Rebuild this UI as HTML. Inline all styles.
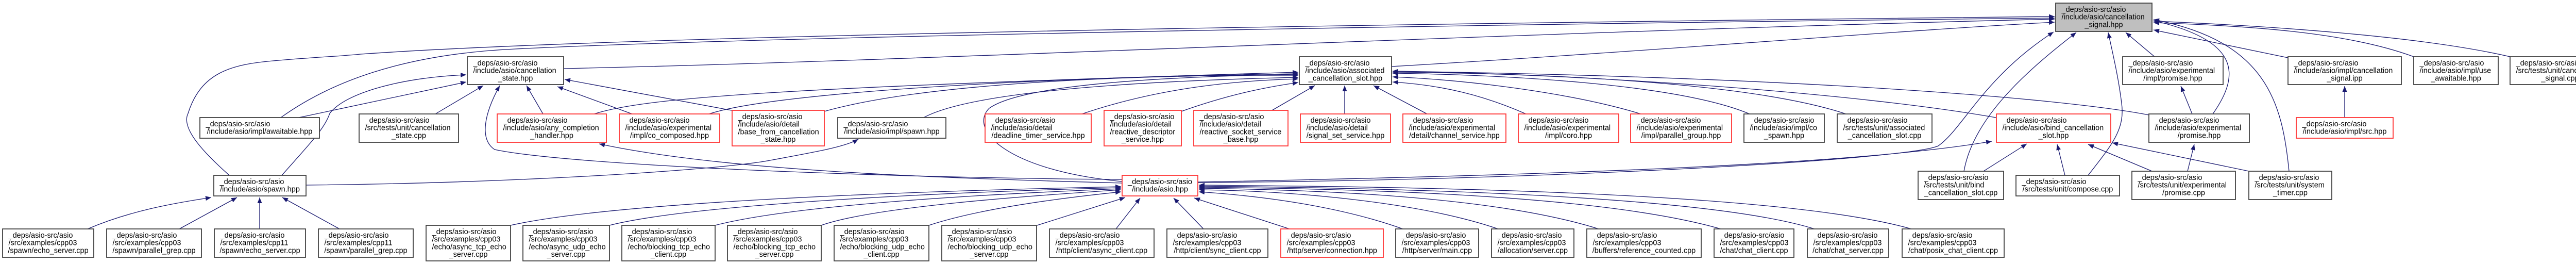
<!DOCTYPE html>
<html><head><meta charset="utf-8"><style>
html,body{margin:0;padding:0;background:#fff;}
svg{display:block}
text{font-family:"Liberation Sans",sans-serif;font-size:14.5px;fill:#000}
.m{text-anchor:middle}
.e{fill:none;stroke:#191970;stroke-width:1.3}
.b{fill:#fff;stroke:#404040;stroke-width:1.8}
.r{fill:#fff;stroke:#ff3333;stroke-width:1.8}
.g{fill:#bfbfbf;stroke:#404040;stroke-width:1.8}
</style></head><body>
<svg width="5072" height="512" viewBox="0 0 5072 512" xmlns="http://www.w3.org/2000/svg">
<defs><marker id="a" markerUnits="userSpaceOnUse" markerWidth="12" markerHeight="10" refX="11" refY="5" orient="auto"><path d="M0,0.5 L11,5 L0,9.5 z" fill="#191970"/></marker></defs>
<g class="e" marker-end="url(#a)">
<!-- to root -->
<path d="M1094,133 C1800,118 3000,60 3988,37"/>
<path d="M2701,129 C3200,100 3700,58 3988,43"/>
<path d="M545,228 C640,160 780,105 1000,95 C1500,70 3000,45 3988,35"/>
<path d="M445,340 C400,300 350,250 365,220 C390,140 450,125 530,118 C620,110 650,110 700,105 C1200,70 2500,48 3988,32"/>
<path d="M2325,354 C3000,350 3700,310 3762,283 C3810,250 3850,150 3986,62"/>
<path d="M3812,332 C3830,230 3930,140 4030,63"/>
<path d="M4053,340 C4100,280 4125,250 4118,200 C4112,150 4100,100 4092,63"/>
<path d="M4182,110 L4126,63"/>
<path d="M4295,221 C4345,150 4355,80 4180,40"/>
<path d="M4443,332 C4430,200 4400,80 4180,38"/>
<path d="M4441,112 L4180,58"/>
<path d="M4685,110 C4550,60 4350,50 4180,44"/>
<path d="M4872,110 C4700,70 4400,50 4180,41"/>
<!-- to cancellation_state -->
<path d="M580,228 L905,159"/>
<path d="M547,340 C600,280 630,250 640,220 C670,180 780,150 905,145"/>
<path d="M845,221 L938,166"/>
<path d="M1054,221 L1022,166"/>
<path d="M1227,221 L1082,168"/>
<path d="M1420,214 L1096,154"/>
<path d="M2178,348 C1700,345 1100,320 960,290 C930,270 940,220 970,166"/>
<!-- to associated slot -->
<path d="M1153,221 C1250,190 1500,170 2520,140"/>
<path d="M1376,221 C1500,180 2000,150 2520,143"/>
<path d="M1600,216 C1800,160 2200,145 2520,146"/>
<path d="M1793,228 C1900,170 2300,155 2520,150"/>
<path d="M2178,352 C1950,330 1880,250 1920,210 C1990,160 2300,148 2520,144"/>
<path d="M2100,221 C2250,170 2400,156 2520,153"/>
<path d="M2293,216 C2380,185 2450,170 2520,160"/>
<path d="M2469,214 L2552,166"/>
<path d="M2610,221 L2610,166"/>
<path d="M2770,221 L2666,166"/>
<path d="M2962,221 C2880,185 2800,165 2703,159"/>
<path d="M3185,221 C3050,180 2850,155 2703,149"/>
<path d="M3396,221 C3250,160 2900,145 2703,142"/>
<path d="M3583,221 C3400,160 3000,142 2703,140"/>
<path d="M3874,228 C3600,180 3100,145 2703,138"/>
<path d="M4171,223 C4000,190 3500,150 2703,138"/>
<!-- others -->
<path d="M2178,355 C1800,345 1400,330 1163,279"/>
<path d="M594,359 C1000,355 1400,330 1500,310 C1580,295 1640,285 1666,270"/>
<path d="M170,444 C250,410 330,395 410,383"/>
<path d="M348,444 L460,383"/>
<path d="M504,444 L504,383"/>
<path d="M659,444 L548,383"/>
<path d="M991,437 C1200,390 1800,370 2176,362"/>
<path d="M1183,437 C1350,395 1850,372 2176,364"/>
<path d="M1388,437 C1550,395 1950,375 2176,366"/>
<path d="M1594,437 C1700,400 2000,380 2176,368"/>
<path d="M1803,437 C1900,405 2050,385 2176,372"/>
<path d="M2013,437 L2184,383"/>
<path d="M2166,444 L2213,384"/>
<path d="M2336,444 L2278,384"/>
<path d="M2503,444 L2318,384"/>
<path d="M2723,444 C2600,400 2450,380 2327,372"/>
<path d="M2908,444 C2750,390 2500,370 2327,368"/>
<path d="M3103,444 C2900,380 2550,368 2327,365"/>
<path d="M3340,444 C3100,375 2600,366 2327,363"/>
<path d="M3522,444 C3300,375 2650,364 2327,361"/>
<path d="M3710,444 C3450,370 2700,362 2327,359"/>
<path d="M2325,353 C3000,340 3600,320 3866,274"/>
<path d="M3850,332 L3934,279"/>
<path d="M4008,340 L3993,280"/>
<path d="M4177,332 L4053,280"/>
<path d="M4365,332 L4100,277"/>
<path d="M4246,332 L4259,280"/>
<path d="M4255,221 L4233,167"/>
<path d="M4551,228 L4551,167"/>
</g>
<!-- nodes -->
<rect class="g" x="3990" y="6" width="187" height="55"/><text x="4001.5" y="23">_deps/asio-src/asio</text><text x="4001.5" y="37.7">/include/asio/cancellation</text><text class="m" x="4083.5" y="52.4">_signal.hpp</text>
<rect class="b" x="907" y="110" width="187" height="54"/><text x="918.5" y="127">_deps/asio-src/asio</text><text x="918.5" y="141.7">/include/asio/cancellation</text><text class="m" x="1000.5" y="156.4">_state.hpp</text>
<rect class="b" x="2522" y="110" width="179" height="54"/><text x="2533.5" y="127">_deps/asio-src/asio</text><text x="2533.5" y="141.7">/include/asio/associated</text><text class="m" x="2611.5" y="156.4">_cancellation_slot.hpp</text>
<rect class="b" x="4120" y="110" width="195" height="54"/><text x="4131.5" y="127">_deps/asio-src/asio</text><text x="4131.5" y="141.7">/include/asio/experimental</text><text class="m" x="4217.5" y="156.4">/impl/promise.hpp</text>
<rect class="b" x="4441" y="110" width="220" height="54"/><text x="4452.5" y="127">_deps/asio-src/asio</text><text x="4452.5" y="141.7">/include/asio/impl/cancellation</text><text class="m" x="4551" y="156.4">_signal.ipp</text>
<rect class="b" x="4685" y="110" width="164" height="54"/><text x="4696.5" y="127">_deps/asio-src/asio</text><text x="4696.5" y="141.7">/include/asio/impl/use</text><text class="m" x="4767" y="156.4">_awaitable.hpp</text>
<rect class="b" x="4872" y="110" width="194" height="54"/><text x="4883.5" y="127">_deps/asio-src/asio</text><text x="4883.5" y="141.7">/src/tests/unit/cancellation</text><text class="m" x="4969" y="156.4">_signal.cpp</text>
<rect class="b" x="388" y="228" width="232" height="40"/><text x="399.5" y="245">_deps/asio-src/asio</text><text class="m" x="504" y="259.7">/include/asio/impl/awaitable.hpp</text>
<rect class="b" x="697" y="221" width="193" height="55"/><text x="708.5" y="238">_deps/asio-src/asio</text><text x="708.5" y="252.7">/src/tests/unit/cancellation</text><text class="m" x="793.5" y="267.4">_state.cpp</text>
<rect class="r" x="965" y="221" width="212" height="55"/><text x="976.5" y="238">_deps/asio-src/asio</text><text x="976.5" y="252.7">/include/asio/any_completion</text><text class="m" x="1071" y="267.4">_handler.hpp</text>
<rect class="r" x="1202" y="221" width="195" height="55"/><text x="1213.5" y="238">_deps/asio-src/asio</text><text x="1213.5" y="252.7">/include/asio/experimental</text><text class="m" x="1299.5" y="267.4">/impl/co_composed.hpp</text>
<rect class="r" x="1421" y="214" width="179" height="69"/><text x="1432.5" y="231">_deps/asio-src/asio</text><text x="1432.5" y="245.7">/include/asio/detail</text><text x="1432.5" y="260.4">/base_from_cancellation</text><text class="m" x="1510.5" y="275.1">_state.hpp</text>
<rect class="b" x="1626" y="228" width="210" height="40"/><text x="1637.5" y="245">_deps/asio-src/asio</text><text class="m" x="1731" y="259.7">/include/asio/impl/spawn.hpp</text>
<rect class="r" x="1912" y="221" width="206" height="55"/><text x="1923.5" y="238">_deps/asio-src/asio</text><text x="1923.5" y="252.7">/include/asio/detail</text><text class="m" x="2015" y="267.4">/deadline_timer_service.hpp</text>
<rect class="r" x="2143" y="214" width="150" height="69"/><text x="2154.5" y="231">_deps/asio-src/asio</text><text x="2154.5" y="245.7">/include/asio/detail</text><text x="2154.5" y="260.4">/reactive_descriptor</text><text class="m" x="2218" y="275.1">_service.hpp</text>
<rect class="r" x="2317" y="214" width="183" height="69"/><text x="2328.5" y="231">_deps/asio-src/asio</text><text x="2328.5" y="245.7">/include/asio/detail</text><text x="2328.5" y="260.4">/reactive_socket_service</text><text class="m" x="2408.5" y="275.1">_base.hpp</text>
<rect class="r" x="2524" y="221" width="175" height="55"/><text x="2535.5" y="238">_deps/asio-src/asio</text><text x="2535.5" y="252.7">/include/asio/detail</text><text class="m" x="2611.5" y="267.4">/signal_set_service.hpp</text>
<rect class="r" x="2723" y="221" width="200" height="55"/><text x="2734.5" y="238">_deps/asio-src/asio</text><text x="2734.5" y="252.7">/include/asio/experimental</text><text class="m" x="2823" y="267.4">/detail/channel_service.hpp</text>
<rect class="r" x="2947" y="221" width="195" height="55"/><text x="2958.5" y="238">_deps/asio-src/asio</text><text x="2958.5" y="252.7">/include/asio/experimental</text><text class="m" x="3044.5" y="267.4">/impl/coro.hpp</text>
<rect class="r" x="3165" y="221" width="196" height="55"/><text x="3176.5" y="238">_deps/asio-src/asio</text><text x="3176.5" y="252.7">/include/asio/experimental</text><text class="m" x="3263" y="267.4">/impl/parallel_group.hpp</text>
<rect class="b" x="3385" y="221" width="156" height="55"/><text x="3396.5" y="238">_deps/asio-src/asio</text><text x="3396.5" y="252.7">/include/asio/impl/co</text><text class="m" x="3463" y="267.4">_spawn.hpp</text>
<rect class="b" x="3566" y="221" width="184" height="55"/><text x="3577.5" y="238">_deps/asio-src/asio</text><text x="3577.5" y="252.7">/src/tests/unit/associated</text><text class="m" x="3658" y="267.4">_cancellation_slot.cpp</text>
<rect class="r" x="3875" y="221" width="222" height="55"/><text x="3886.5" y="238">_deps/asio-src/asio</text><text x="3886.5" y="252.7">/include/asio/bind_cancellation</text><text class="m" x="3986" y="267.4">_slot.hpp</text>
<rect class="b" x="4171" y="221" width="195" height="55"/><text x="4182.5" y="238">_deps/asio-src/asio</text><text x="4182.5" y="252.7">/include/asio/experimental</text><text class="m" x="4268.5" y="267.4">/promise.hpp</text>
<rect class="r" x="4457" y="228" width="188" height="40"/><text x="4468.5" y="245">_deps/asio-src/asio</text><text class="m" x="4551" y="259.7">/include/asio/impl/src.hpp</text>
<rect class="b" x="415" y="340" width="179" height="40"/><text x="426.5" y="357">_deps/asio-src/asio</text><text class="m" x="504.5" y="371.7">/include/asio/spawn.hpp</text>
<rect class="r" x="2178" y="340" width="147" height="40"/><text class="m" x="2251.5" y="357">_deps/asio-src/asio</text><text class="m" x="2251.5" y="371.7">/include/asio.hpp</text>
<rect class="b" x="3723" y="332" width="166" height="55"/><text x="3734.5" y="349">_deps/asio-src/asio</text><text x="3734.5" y="363.7">/src/tests/unit/bind</text><text class="m" x="3806" y="378.4">_cancellation_slot.cpp</text>
<rect class="b" x="3913" y="340" width="201" height="40"/><text x="3924.5" y="357">_deps/asio-src/asio</text><text class="m" x="4013.5" y="371.7">/src/tests/unit/compose.cpp</text>
<rect class="b" x="4138" y="332" width="201" height="55"/><text x="4149.5" y="349">_deps/asio-src/asio</text><text x="4149.5" y="363.7">/src/tests/unit/experimental</text><text class="m" x="4238.5" y="378.4">/promise.cpp</text>
<rect class="b" x="4365" y="332" width="161" height="55"/><text x="4376.5" y="349">_deps/asio-src/asio</text><text x="4376.5" y="363.7">/src/tests/unit/system</text><text class="m" x="4445.5" y="378.4">_timer.cpp</text>
<!-- bottom -->
<rect class="b" x="5" y="444" width="177" height="55"/><text x="16.5" y="461">_deps/asio-src/asio</text><text x="16.5" y="475.7">/src/examples/cpp03</text><text class="m" x="93.5" y="490.4">/spawn/echo_server.cpp</text>
<rect class="b" x="207" y="444" width="184" height="55"/><text x="218.5" y="461">_deps/asio-src/asio</text><text x="218.5" y="475.7">/src/examples/cpp03</text><text class="m" x="299" y="490.4">/spawn/parallel_grep.cpp</text>
<rect class="b" x="416" y="444" width="177" height="55"/><text x="427.5" y="461">_deps/asio-src/asio</text><text x="427.5" y="475.7">/src/examples/cpp11</text><text class="m" x="504.5" y="490.4">/spawn/echo_server.cpp</text>
<rect class="b" x="618" y="444" width="184" height="55"/><text x="629.5" y="461">_deps/asio-src/asio</text><text x="629.5" y="475.7">/src/examples/cpp11</text><text class="m" x="710" y="490.4">/spawn/parallel_grep.cpp</text>
<rect class="b" x="827" y="437" width="164" height="69"/><text x="838.5" y="454">_deps/asio-src/asio</text><text x="838.5" y="468.7">/src/examples/cpp03</text><text x="838.5" y="483.4">/echo/async_tcp_echo</text><text class="m" x="909" y="498.1">_server.cpp</text>
<rect class="b" x="1015" y="437" width="168" height="69"/><text x="1026.5" y="454">_deps/asio-src/asio</text><text x="1026.5" y="468.7">/src/examples/cpp03</text><text x="1026.5" y="483.4">/echo/async_udp_echo</text><text class="m" x="1099" y="498.1">_server.cpp</text>
<rect class="b" x="1207" y="437" width="181" height="69"/><text x="1218.5" y="454">_deps/asio-src/asio</text><text x="1218.5" y="468.7">/src/examples/cpp03</text><text x="1218.5" y="483.4">/echo/blocking_tcp_echo</text><text class="m" x="1297.5" y="498.1">_client.cpp</text>
<rect class="b" x="1412" y="437" width="182" height="69"/><text x="1423.5" y="454">_deps/asio-src/asio</text><text x="1423.5" y="468.7">/src/examples/cpp03</text><text x="1423.5" y="483.4">/echo/blocking_tcp_echo</text><text class="m" x="1503" y="498.1">_server.cpp</text>
<rect class="b" x="1619" y="437" width="184" height="69"/><text x="1630.5" y="454">_deps/asio-src/asio</text><text x="1630.5" y="468.7">/src/examples/cpp03</text><text x="1630.5" y="483.4">/echo/blocking_udp_echo</text><text class="m" x="1711" y="498.1">_client.cpp</text>
<rect class="b" x="1828" y="437" width="184" height="69"/><text x="1839.5" y="454">_deps/asio-src/asio</text><text x="1839.5" y="468.7">/src/examples/cpp03</text><text x="1839.5" y="483.4">/echo/blocking_udp_echo</text><text class="m" x="1920" y="498.1">_server.cpp</text>
<rect class="b" x="2037" y="444" width="203" height="55"/><text x="2048.5" y="461">_deps/asio-src/asio</text><text x="2048.5" y="475.7">/src/examples/cpp03</text><text class="m" x="2138.5" y="490.4">/http/client/async_client.cpp</text>
<rect class="b" x="2265" y="444" width="196" height="55"/><text x="2276.5" y="461">_deps/asio-src/asio</text><text x="2276.5" y="475.7">/src/examples/cpp03</text><text class="m" x="2363" y="490.4">/http/client/sync_client.cpp</text>
<rect class="r" x="2486" y="444" width="199" height="55"/><text x="2497.5" y="461">_deps/asio-src/asio</text><text x="2497.5" y="475.7">/src/examples/cpp03</text><text class="m" x="2585.5" y="490.4">/http/server/connection.hpp</text>
<rect class="b" x="2709" y="444" width="161" height="55"/><text x="2720.5" y="461">_deps/asio-src/asio</text><text x="2720.5" y="475.7">/src/examples/cpp03</text><text class="m" x="2789.5" y="490.4">/http/server/main.cpp</text>
<rect class="b" x="2895" y="444" width="160" height="55"/><text x="2906.5" y="461">_deps/asio-src/asio</text><text x="2906.5" y="475.7">/src/examples/cpp03</text><text class="m" x="2975" y="490.4">/allocation/server.cpp</text>
<rect class="b" x="3080" y="444" width="222" height="55"/><text x="3091.5" y="461">_deps/asio-src/asio</text><text x="3091.5" y="475.7">/src/examples/cpp03</text><text class="m" x="3191" y="490.4">/buffers/reference_counted.cpp</text>
<rect class="b" x="3327" y="444" width="155" height="55"/><text x="3338.5" y="461">_deps/asio-src/asio</text><text x="3338.5" y="475.7">/src/examples/cpp03</text><text class="m" x="3404.5" y="490.4">/chat/chat_client.cpp</text>
<rect class="b" x="3508" y="444" width="158" height="55"/><text x="3519.5" y="461">_deps/asio-src/asio</text><text x="3519.5" y="475.7">/src/examples/cpp03</text><text class="m" x="3587" y="490.4">/chat/chat_server.cpp</text>
<rect class="b" x="3692" y="444" width="198" height="55"/><text x="3703.5" y="461">_deps/asio-src/asio</text><text x="3703.5" y="475.7">/src/examples/cpp03</text><text class="m" x="3791" y="490.4">/chat/posix_chat_client.cpp</text>
</svg>
</body></html>
